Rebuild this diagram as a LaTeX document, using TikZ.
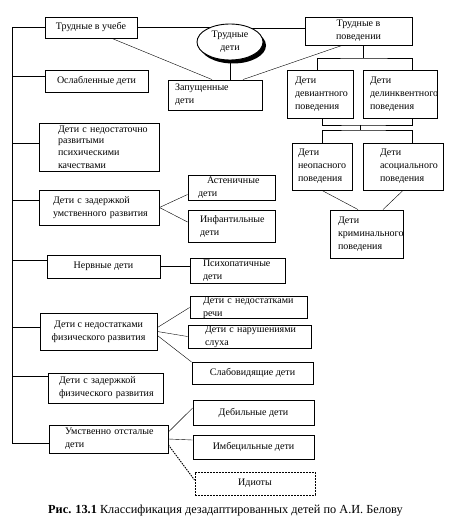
\documentclass[tikz,border=0pt]{standalone}
\usepackage{fontspec}
\setmainfont{Liberation Serif}
\usetikzlibrary{shapes.geometric,shadows,backgrounds}
\begin{document}
\begin{tikzpicture}[x=1pt,y=-1pt,
 txt/.style={font=\fontsize{10}{13}\selectfont},
 bx/.style={draw, line width=0.9pt, fill=white, inner sep=0pt, txt},
 cb/.style 2 args={bx, minimum width=#1, minimum height=#2, align=center},
 lb/.style n args={3}{bx, minimum width=#1, minimum height=#2, text width=#1, align=left, execute at begin node={\leftskip=#3\relax}},
 ln/.style={line width=0.7pt},
 dln/.style={line width=0.9pt, dash pattern=on 1.5pt off 1pt},
 dbx/.style={dash pattern=on 2pt off 1pt}]
\useasboundingbox (0,0) rectangle (453,526);
% top group
\node[cb={92pt}{21pt}] (ucheba) at (91,27.5) {Трудные в учебе};
\node[draw, line width=0.9pt, fill=white, ellipse, minimum width=66pt, minimum height=36pt, inner sep=0pt, align=center, txt,
  drop shadow={shadow xshift=3pt, shadow yshift=-3.5pt, fill=black, opacity=1}] (ell) at (230,42) {Трудные\\дети};
\node[cb={107pt}{28pt}] (pov) at (358.5,31) {Трудные в\\поведении};
\node[lb={94pt}{30pt}{7pt}] (zap) at (215,95) {Запущенные\\дети};
\node[lb={66pt}{48pt}{8pt}] (dev) at (320,94) {Дети\\девиантного\\поведения};
\node[lb={74pt}{48pt}{7pt}] (del) at (400,94) {Дети\\делинквентного\\поведения};
\node[lb={60pt}{47pt}{6pt}] (neo) at (322,166.5) {Дети\\неопасного\\поведения};
\node[lb={80pt}{47pt}{17pt}] (aso) at (403,166.5) {Дети\\асоциального\\поведения};
\node[lb={73pt}{48pt}{8pt}] (kri) at (366.5,234) {Дети\\криминального\\поведения};
% left column
\node[cb={103pt}{22pt}] (osl) at (96.5,81) {Ослабленные дети};
\node[lb={120pt}{48pt}{19pt}, txt/.append style={}] (ned) at (99,147) {\fontsize{10}{11.5}\selectfont Дети с недостаточно\\развитыми\\психическими\\качествами};
\node[lb={120pt}{35pt}{14pt}] (zum) at (99,207.5) {Дети с задержкой\\умственного развития};
\node[lb={87pt}{25pt}{10pt}] (ast) at (231.5,187.5) {\hspace*{9pt}Астеничные\\дети};
\node[lb={87pt}{32pt}{12pt}] (inf) at (231.5,226) {Инфантильные\\дети};
\node[cb={113pt}{23pt}] (ner) at (103.5,266.5) {Нервные дети};
\node[lb={95pt}{25pt}{13pt}] (psi) at (237.5,270.5) {Психопатичные\\дети};
\node[cb={117pt}{37pt}] (fiz) at (98.5,331.5) {Дети с недостатками\\физического развития};
\node[lb={117pt}{21pt}{13pt}] (rec) at (248.5,307.5) {\fontsize{10}{11}\selectfont Дети с недостатками\\речи};
\node[lb={123pt}{23pt}{17pt}] (slu) at (249.5,336.5) {\fontsize{10}{12}\selectfont Дети с нарушениями\\слуха};
\node[cb={121pt}{22pt}] (sla) at (252.5,373) {Слабовидящие дети};
\node[lb={115pt}{30pt}{11pt}] (zfi) at (105.5,388) {Дети с задержкой\\физического развития};
\node[lb={119pt}{28pt}{16pt}] (umo) at (108.5,439) {Умственно отсталые\\дети};
\node[cb={121pt}{25pt}] (deb) at (253.5,412.5) {Дебильные дети};
\node[cb={121pt}{24pt}] (imb) at (253.5,447) {Имбецильные дети};
\node[cb={120pt}{23pt}, dbx] (idi) at (255,483.5) {Идиоты};
\node[anchor=base west, inner sep=0pt, font=\fontsize{12.3}{14}\selectfont] (cap) at (48,513) {\textbf{Рис. 13.1} Классификация дезадаптированных детей по А.И. Белову};
% connectors
\begin{scope}[on background layer, ln]
\coordinate (sp) at (12,27.5);
\draw (ucheba.west) -- (sp) |- ([yshift=-4pt]umo.west);
\draw ([yshift=5pt]osl.west) -| (sp);
\draw ([yshift=4pt]ned.west) -| (sp);
\draw ([yshift=7pt]zum.west) -| (sp);
\draw ([yshift=6pt]ner.west) -| (sp);
\draw ([yshift=4pt]fiz.west) -| (sp);
\draw ([yshift=12pt]zfi.west) -| (sp);
\draw (ucheba.east) -| (ell.center);
\draw ([yshift=3pt]pov.west) -| (ell.center);
\draw (ell.center) -- (ell.center |- zap.north);
\draw ([xshift=21pt]ucheba.south) -- ([xshift=-3pt]zap.north);
\draw ([xshift=-16.5pt]pov.south) -- ([xshift=28pt]zap.north);
\coordinate (j1) at (363,58);
\draw ([xshift=4.5pt]pov.south) -- (j1);
\draw ([xshift=-3pt]dev.north) |- (j1) -| ([xshift=12pt]del.north);
\coordinate (j2) at (360,125);
\coordinate (j3) at (360,130);
\draw ([xshift=2pt]dev.south) |- (j2) -| ([xshift=12pt]del.south);
\draw (j2) -- (j3);
\draw (neo.north) |- (j3) -| ([xshift=9pt]aso.north);
\draw (neo.south) -- ([xshift=-8.5pt]kri.north);
\draw (aso.south) -- ([xshift=16.5pt]kri.north);
\draw (zum.east) -- ([yshift=-7pt]ast.west);
\draw (zum.east) -- ([yshift=4pt]inf.west);
\draw (ner.east) -- (ner.east -| psi.west);
\draw ([yshift=4pt]fiz.east) -- (rec.west);
\draw (fiz.east) -- (slu.west);
\draw ([yshift=-4pt]fiz.east) -- ([yshift=11pt]sla.west);
\draw ([yshift=7pt]umo.east) -- ([yshift=4.5pt]deb.west);
\draw (umo.east) -- ([yshift=7pt]imb.west);
\draw[dln] ([yshift=-6pt]umo.east) -- ([yshift=3.5pt]idi.west);
\end{scope}
\end{tikzpicture}
\end{document}
